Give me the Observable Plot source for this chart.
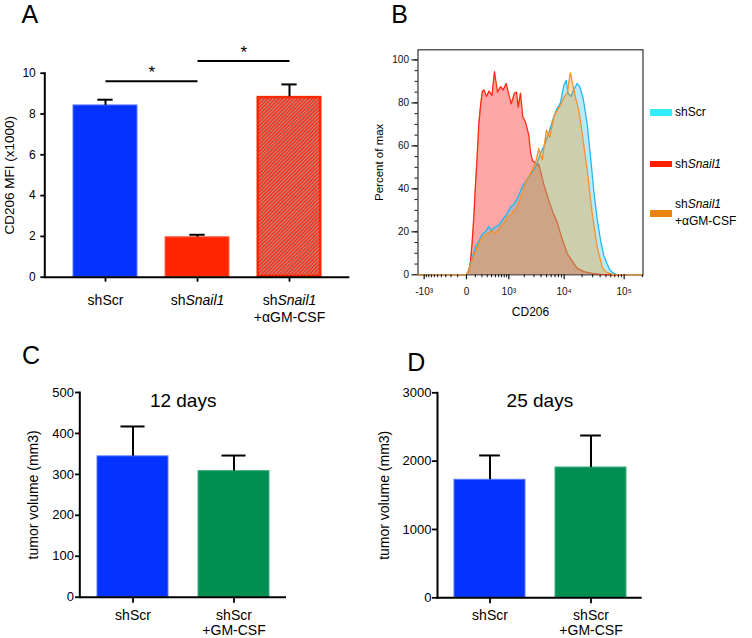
<!DOCTYPE html>
<html><head><meta charset="utf-8">
<script src="https://cdn.jsdelivr.net/npm/d3@7"></script>
<script src="https://cdn.jsdelivr.net/npm/@observablehq/plot@0.6"></script>
<style>
html,body{margin:0;padding:0;background:#fff;}
#fig{position:relative;width:752px;height:638px;overflow:hidden;font-family:'Liberation Sans',Arial,Helvetica,sans-serif;color:#000;background:#fff;}
.letter{position:absolute;font-size:25px;line-height:1;}
.leg{position:absolute;font-size:12px;line-height:14px;white-space:nowrap;}
.sw{position:absolute;width:22px;}
</style></head><body><div id="fig"></div>
<script>
// ---------- Panel A data ----------
const catsA = ["shScr", "shSnail1", "shSnail1\n+αGM-CSF"];
const mfiA = [8.42, 1.96, 8.84];
const semA = [0.28, 0.12, 0.61];
const yTicksA = [0, 2, 4, 6, 8, 10];
const sigFrom = ["shScr", "shSnail1"];
const sigTo = ["shSnail1", "shSnail1\n+αGM-CSF"];
const sigLevel = [9.6, 10.6];
const sigLabel = ["*", "*"];

// ---------- Panel B data (CD206 histogram, % of max) ----------
const snailX = [-1330, 0, 25, 41, 60, 82, 102, 125, 149, 181, 209, 236, 285, 338, 409, 475, 562, 661, 759, 881, 999, 1118, 1301, 1423, 1535, 1698, 1876, 2106, 2421, 2600, 2825, 3068, 3427, 3657, 4476, 5465, 6662, 7614, 9260, 11250, 12790, 16570, 21380, 29500, 40550, 59430, 205000];
const snailY = [0, 0, 2, 6, 15, 28, 42, 55, 70, 80, 85.5, 86, 83, 85.5, 83.5, 94.5, 85, 87.5, 86, 89, 84, 79.5, 84.5, 85, 78, 84.5, 73.5, 71, 65, 57, 53, 52.5, 51, 51.5, 42, 34.5, 28, 24.5, 16.5, 10, 7.5, 3, 1.5, 0.7, 0.2, 0, 0];
const scrX = [-1330, 0, 20, 41, 70, 102, 149, 204, 265, 334, 389, 475, 604, 759, 925, 1082, 1301, 1577, 1829, 2198, 2600, 3196, 3918, 4603, 5465, 6662, 7614, 8663, 9856, 10822, 11606, 13140, 14363, 16570, 18322, 20885, 24360, 27650, 31380, 35740, 40550, 46000, 52400, 57200, 63400, 71950, 87050, 205000];
const scrY = [0, 0, 2, 5, 9, 13, 15.5, 19, 20, 22.5, 20.5, 22, 23, 26, 28.5, 31.5, 33, 37, 41, 44, 46.5, 50, 56.5, 60.5, 66, 73.5, 77.5, 80, 88, 90.5, 84.5, 83, 86, 89, 87.5, 82, 70, 55, 39, 26, 16, 9, 5, 2.5, 1.2, 0.3, 0, 0];
const gmX = [-1330, 0, 20, 60, 125, 204, 299, 414, 503, 637, 782, 952, 1171, 1469, 1829, 2198, 2600, 3196, 3657, 4197, 4986, 5685, 6662, 7614, 8663, 10130, 11250, 12066, 12790, 14197, 15518, 17630, 20095, 24360, 29500, 35740, 43270, 49100, 55700, 64150, 87050, 205000];
const gmY = [0, 0, 2, 6.7, 13, 17.5, 19, 20.5, 19, 22, 24, 27, 28.5, 31.5, 38, 44, 47, 52, 58.7, 53.5, 67.3, 64, 73.5, 76.5, 79, 83, 84.5, 90, 94, 87.5, 82.5, 76.5, 65.7, 48.6, 28.4, 12.9, 3.5, 1.5, 0.8, 0.2, 0, 0];
const bMajor = [-1000, 0, 1000, 10000, 100000];
const bMajorLabels = ["-10³", "0", "10³", "10⁴", "10⁵"];
const bYTicks = [0, 20, 40, 60, 80, 100];

// ---------- Panels C / D data ----------
const catsCD = ["shScr", "shScr\n+GM-CSF"];
const volC = [344, 308];
const semC = [73, 38];
const yTicksC = [0, 100, 200, 300, 400, 500];
const volD = [1727, 1907];
const semD = [356, 468];
const yTicksD = [0, 1000, 2000, 3000];

// ---------- helpers ----------
const FONT = "'Liberation Sans', Arial, Helvetica, sans-serif";
const fig = document.getElementById("fig");
function place(node, left, top) {
  node.style.position = "absolute";
  node.style.left = left + "px";
  node.style.top = top + "px";
  fig.appendChild(node);
  return node;
}
function italicize(svg, word) {
  d3.select(svg).selectAll("text, tspan").each(function () {
    if (this.childNodes.length !== 1 || this.firstChild.nodeType !== 3) return;
    const t = this.textContent; const i = t.indexOf(word);
    if (i < 0) return;
    this.textContent = "";
    this.appendChild(document.createTextNode(t.slice(0, i)));
    const ts = document.createElementNS("http://www.w3.org/2000/svg", "tspan");
    ts.setAttribute("font-style", "italic");
    ts.textContent = word;
    this.appendChild(ts);
    if (i + word.length < t.length) this.appendChild(document.createTextNode(t.slice(i + word.length)));
  });
}
function letter(txt, left, top) {
  const d = document.createElement("div");
  d.className = "letter"; d.textContent = txt;
  d.style.left = left + "px"; d.style.top = top + "px";
  fig.appendChild(d);
}

function barPanel(o) {
  const sx = Plot.scale({x: {type: "band", domain: o.cats, range: [o.ml, o.w - o.mr], paddingInner: o.pi, paddingOuter: o.po}});
  const bw = sx.bandwidth, step = sx.step;
  const rows = o.cats.map((g, i) => ({g, v: o.vals[i], e: o.errs[i], fill: o.fills[i], edge: o.edges[i]}));
  const capInset = (bw - o.capW) / 2;
  const marks = [
    Plot.barY(rows, {x: "g", y: "v", fill: "fill", stroke: "edge", strokeWidth: 1}),
    ...(o.extraBars ? o.extraBars(rows) : []),
    Plot.ruleX(rows, {x: "g", y1: "v", y2: d => d.v + d.e, strokeWidth: 2}),
    Plot.tickY(rows, {x: "g", y: d => d.v + d.e, strokeWidth: 2, insetLeft: capInset, insetRight: capInset}),
    Plot.frame({anchor: "left", strokeWidth: 2}),
    Plot.ruleY([0], {strokeWidth: 2}),
    Plot.axisY({ticks: o.yTicks, tickFormat: d => String(d), tickSize: o.yTickSize, tickPadding: o.yTickPad, fontSize: o.yTickFont, strokeWidth: 1.8}),
    Plot.axisX({tickSize: o.xTickSize, tickPadding: o.xTickPad, fontSize: o.xFont, lineHeight: o.xLH, strokeWidth: 1.8}),
    Plot.text([o.yLabel], {text: d => d, frameAnchor: "left", textAnchor: "middle", lineAnchor: "middle", rotate: -90, dx: o.yLabelDx, fontSize: o.yLabelFont}),
    ...(o.title ? [Plot.text([o.title], {text: d => d, frameAnchor: "top", textAnchor: "middle", lineAnchor: "middle", dy: 8, fontSize: 19})] : []),
    ...(o.extra ? o.extra(step, bw) : [])
  ];
  return Plot.plot({
    width: o.w, height: o.h,
    marginLeft: o.ml, marginRight: o.mr, marginTop: o.mt, marginBottom: o.mb,
    style: {fontFamily: FONT, fontSize: "12px", color: "#000", background: "transparent", overflow: "visible"},
    x: {domain: o.cats, paddingInner: o.pi, paddingOuter: o.po, axis: null, label: null},
    y: {domain: o.yDomain, axis: null, label: null},
    color: {type: "identity"},
    marks
  });
}

// ---------- Panel A ----------
const sigRows = sigFrom.map((f, i) => ({f, t: sigTo[i], y: sigLevel[i], s: sigLabel[i]}));
const svgA = barPanel({
  w: 376, h: 320, ml: 44.3, mr: 26.7, mt: 72.7, mb: 43.3, pi: 0.3, po: 0.3,
  cats: catsA, vals: mfiA, errs: semA,
  fills: ["#0433ff", "#ff2600", "url(#hatchA)"],
  edges: ["#5a78ff", "#ff6a50", "#ff2600"],
  extraBars: rows => [Plot.barY(rows.filter(d => d.fill.startsWith("url")), {x: "g", y: "v", fill: "none", stroke: "#ff2600", strokeWidth: 2, inset: 1})],
  yDomain: [0, 10], yTicks: yTicksA, yTickSize: 4, yTickPad: 5, yTickFont: 12,
  xTickSize: 5, xTickPad: 11, xFont: 14, xLH: 1.21,
  yLabel: "CD206 MFI (x1000)", yLabelDx: -35.3, yLabelFont: 13.5,
  capW: 16,
  extra: (step) => [
    Plot.link(sigRows, {x1: "f", x2: "t", y1: "y", y2: "y", strokeWidth: 2}),
    Plot.text(sigRows, {x: "f", y: "y", text: "s", dx: step / 2, dy: -8.5, fontSize: 17, lineAnchor: "middle"})
  ]
});
d3.select(svgA).insert("defs", ":first-child").html(
  '<pattern id="hatchA" patternUnits="userSpaceOnUse" width="2.6" height="2.6" patternTransform="rotate(45)">' +
  '<rect width="2.6" height="2.6" fill="#ff2a10"/><line x1="0.6" y1="0" x2="0.6" y2="2.6" stroke="#b49a9a" stroke-width="1"/></pattern>');
italicize(svgA, "Snail1");
place(svgA, 0, 0);

// ---------- Panel B ----------
const toRows = (xs, ys) => xs.map((x, i) => ({x, y: ys[i]}));
const snail = toRows(snailX, snailY), scr = toRows(scrX, scrY), gm = toRows(gmX, gmY);
const bMinor = [];
for (let m = 1; m <= 9; m++) { bMinor.push(-m * 100, m * 100); }
for (let m = 2; m <= 9; m++) { bMinor.push(m * 1000, m * 10000); }
bMinor.push(200000);
const bYMinor = d3.range(5, 105, 5);
const svgB = Plot.plot({
  width: 382, height: 320, marginLeft: 47.5, marginRight: 109.5, marginTop: 49.3, marginBottom: 45.7,
  style: {fontFamily: FONT, fontSize: "10px", color: "#111", background: "transparent", overflow: "visible"},
  x: {type: "symlog", constant: 250, domain: [-1330, 205000], axis: null, label: null},
  y: {domain: [0, 104.7], axis: null, label: null},
  marks: [
    Plot.frame({stroke: "#333", strokeWidth: 1.2}),
    Plot.areaY(snail, {x: "x", y: "y", fill: "#ff0000", fillOpacity: 0.35}),
    Plot.lineY(snail, {x: "x", y: "y", stroke: "#ff2a10", strokeWidth: 1.3}),
    Plot.areaY(scr, {x: "x", y: "y", fill: "#33c6f0", fillOpacity: 0.35}),
    Plot.lineY(scr, {x: "x", y: "y", stroke: "#22b8ee", strokeWidth: 1.3}),
    Plot.areaY(gm, {x: "x", y: "y", fill: "#ff8c00", fillOpacity: 0.3}),
    Plot.lineY(gm, {x: "x", y: "y", stroke: "#f7902a", strokeWidth: 1.3}),
    Plot.axisY({ticks: bYTicks, tickSize: 6, tickPadding: 3, fontSize: 10, strokeWidth: 1.2}),
    Plot.axisY({ticks: bYMinor, tickSize: 3, tickFormat: () => "", strokeWidth: 1}),
    Plot.axisX({ticks: bMajor, tickFormat: d => bMajorLabels[bMajor.indexOf(d)], tickSize: 5, tickPadding: 8.5, fontSize: 10, strokeWidth: 1.2}),
    Plot.axisX({ticks: bMinor, tickSize: 3, tickFormat: () => "", strokeWidth: 1}),
    Plot.text(["Percent of max"], {text: d => d, frameAnchor: "left", textAnchor: "middle", lineAnchor: "middle", rotate: -90, dx: -38.5, fontSize: 11.5, fill: "#000"}),
    Plot.text(["CD206"], {text: d => d, frameAnchor: "bottom", textAnchor: "middle", lineAnchor: "middle", dy: 37, fontSize: 12, fill: "#000"})
  ]
});
place(svgB, 370, 0);

// Legend for B (HTML)
const legend = [
  {html: "shScr", color: "#33eeff", swTop: 109, swH: 7, txtTop: 105.3, lh: 14},
  {html: "sh<i>Snail1</i>", color: "#ff2200", swTop: 160.7, swH: 6.6, txtTop: 156.8, lh: 14},
  {html: "sh<i>Snail1</i><br>+αGM-CSF", color: "#e8830f", swTop: 210, swH: 6.5, txtTop: 196.3, lh: 17}
];
legend.forEach(l => {
  const s = document.createElement("div");
  s.className = "sw"; s.style.left = "650px"; s.style.top = l.swTop + "px"; s.style.height = l.swH + "px"; s.style.background = l.color;
  fig.appendChild(s);
  const t = document.createElement("div");
  t.className = "leg"; t.style.left = "675px"; t.style.top = l.txtTop + "px"; t.style.lineHeight = l.lh + "px"; t.innerHTML = l.html;
  fig.appendChild(t);
});

// ---------- Panel C ----------
const svgC = barPanel({
  w: 376, h: 318, ml: 79.3, mr: 90, mt: 72, mb: 41.3, pi: 0.3, po: 0.17,
  cats: catsCD, vals: volC, errs: semC,
  fills: ["#0433ff", "#008f51"], edges: ["#5a78ff", "#3fae7e"],
  yDomain: [0, 500], yTicks: yTicksC, yTickSize: 4.3, yTickPad: 1.5, yTickFont: 13,
  xTickSize: 6, xTickPad: 6.5, xFont: 14, xLH: 1.06,
  yLabel: "tumor volume (mm3)", yLabelDx: -46.3, yLabelFont: 14,
  capW: 24, title: "12 days"
});
place(svgC, 0, 320);

// ---------- Panel D ----------
const svgD = barPanel({
  w: 376, h: 318, ml: 61, mr: 110.3, mt: 72.3, mb: 40.7, pi: 0.3, po: 0.155,
  cats: catsCD, vals: volD, errs: semD,
  fills: ["#0433ff", "#008f51"], edges: ["#5a78ff", "#3fae7e"],
  yDomain: [0, 3000], yTicks: yTicksD, yTickSize: 5, yTickPad: 1, yTickFont: 13,
  xTickSize: 6, xTickPad: 6, xFont: 14, xLH: 1.06,
  yLabel: "tumor volume (mm3)", yLabelDx: -52.7, yLabelFont: 14,
  capW: 21, title: "25 days"
});
place(svgD, 376, 320);

// ---------- Panel letters ----------
letter("A", 21.5, 1.7);
letter("B", 391.3, 1.7);
letter("C", 22, 342.7);
letter("D", 407.3, 350);
</script></body></html>
